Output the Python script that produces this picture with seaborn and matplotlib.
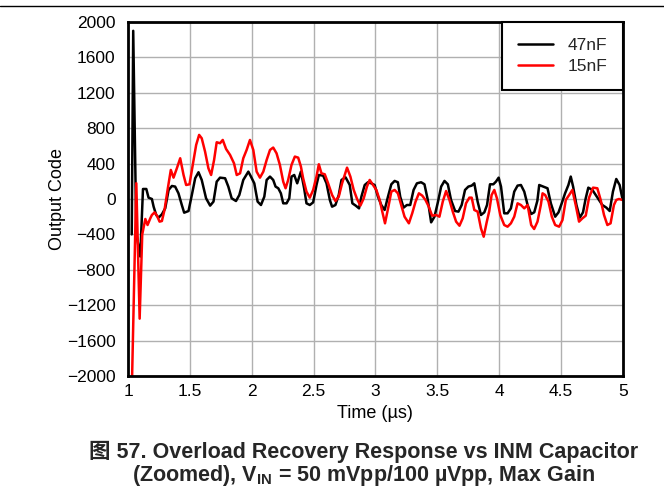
import pandas as pd
import matplotlib
matplotlib.use("Agg")
import matplotlib.pyplot as plt
from matplotlib.lines import Line2D
import seaborn as sns

# Time axis (us) and output code
t_47nF = [1.030, 1.042, 1.067, 1.099, 1.121, 1.148, 1.166, 1.193, 1.207, 1.228,
          1.247, 1.274, 1.301, 1.328, 1.355, 1.381, 1.408, 1.435, 1.454, 1.489,
          1.516, 1.543, 1.570, 1.596, 1.631, 1.664, 1.691, 1.717, 1.744, 1.785,
          1.811, 1.838, 1.873, 1.900, 1.932, 1.973, 1.994, 2.021, 2.048, 2.075,
          2.102, 2.121, 2.148, 2.174, 2.193, 2.215, 2.236, 2.255, 2.282, 2.304,
          2.322, 2.344, 2.368, 2.398, 2.424, 2.443, 2.470, 2.497, 2.524, 2.543,
          2.578, 2.605, 2.632, 2.650, 2.677, 2.704, 2.726, 2.759, 2.793, 2.814,
          2.841, 2.868, 2.887, 2.914, 2.940, 2.967, 2.994, 3.021, 3.048, 3.075,
          3.102, 3.129, 3.156, 3.182, 3.201, 3.228, 3.255, 3.282, 3.309, 3.336,
          3.370, 3.397, 3.424, 3.451, 3.478, 3.505, 3.532, 3.559, 3.586, 3.612,
          3.645, 3.672, 3.698, 3.725, 3.752, 3.779, 3.800, 3.827, 3.854, 3.881,
          3.903, 3.927, 3.954, 3.975, 3.997, 4.016, 4.042, 4.069, 4.096, 4.123,
          4.150, 4.177, 4.204, 4.231, 4.260, 4.285, 4.310, 4.325, 4.357, 4.392,
          4.419, 4.454, 4.481, 4.507, 4.534, 4.561, 4.580, 4.599, 4.626, 4.653,
          4.679, 4.701, 4.722, 4.755, 4.782, 4.808, 4.835, 4.868, 4.895, 4.921,
          4.948, 4.975, 4.997]
code_47nF = [-400, 1900, -390, -650, 113, 113, 15, 0, -87, -181,
             -211, -173, -105, 102, 147, 140, 64, -68, -155, -136,
             45, 234, 302, 215, 8, -75, -30, 196, 241, 234,
             140, 8, -23, 45, 215, 309, 253, 177, -30, -68,
             26, 215, 253, 215, 140, 121, 64, -49, -49, 8,
             253, 271, 177, 309, 121, -49, -68, -38, 158, 271,
             264, 177, -11, -87, -68, 45, 215, 245, 158, -49,
             -75, -106, 26, 158, 189, 177, 158, 26, -68, -124,
             26, 166, 204, 189, 26, -98, -68, -68, 102, 177,
             189, 166, -11, -264, -200, -40, 140, 204, 166, -11,
             -136, -143, -68, 102, 140, 151, 177, -30, -181, -151,
             -68, 166, 166, 196, 241, 140, -162, -162, -106, 83,
             151, 158, 83, -68, -170, -150, -20, 158, 140, 121,
             -49, -200, -151, -49, 64, 158, 253, 140, -68, -211,
             -151, 8, 128, 102, 45, -11, -68, -98, -136, 83,
             226, 158, 8]

t_15nF = [1.030, 1.067, 1.094, 1.115, 1.140, 1.158, 1.180, 1.193, 1.215, 1.234,
          1.255, 1.274, 1.295, 1.322, 1.346, 1.368, 1.395, 1.422, 1.449, 1.470,
          1.497, 1.524, 1.551, 1.575, 1.596, 1.623, 1.650, 1.672, 1.696, 1.717,
          1.744, 1.766, 1.793, 1.825, 1.857, 1.879, 1.906, 1.932, 1.959, 1.986,
          2.013, 2.040, 2.067, 2.094, 2.121, 2.148, 2.174, 2.201, 2.228, 2.255,
          2.274, 2.295, 2.322, 2.349, 2.376, 2.398, 2.416, 2.443, 2.470, 2.497,
          2.524, 2.543, 2.564, 2.591, 2.618, 2.650, 2.677, 2.704, 2.731, 2.771,
          2.798, 2.825, 2.852, 2.879, 2.906, 2.932, 2.954, 2.981, 3.008, 3.035,
          3.056, 3.078, 3.104, 3.129, 3.156, 3.182, 3.209, 3.236, 3.271, 3.298,
          3.325, 3.352, 3.379, 3.405, 3.432, 3.459, 3.491, 3.518, 3.545, 3.572,
          3.599, 3.626, 3.653, 3.680, 3.706, 3.733, 3.760, 3.779, 3.800, 3.827,
          3.854, 3.876, 3.900, 3.921, 3.940, 3.962, 3.983, 4.010, 4.042, 4.069,
          4.096, 4.123, 4.150, 4.177, 4.204, 4.231, 4.260, 4.284, 4.311, 4.338,
          4.352, 4.373, 4.400, 4.427, 4.454, 4.486, 4.513, 4.540, 4.567, 4.593,
          4.620, 4.647, 4.674, 4.701, 4.728, 4.760, 4.795, 4.822, 4.849, 4.876,
          4.902, 4.929, 4.948, 4.970, 4.997]
code_15nF = [-2200, 178, -1352, -400, -226, -294, -219, -181, -151, -189,
             -256, -249, -124, 121, 328, 241, 347, 460, 271, 158,
             166, 385, 611, 724, 686, 535, 347, 271, 441, 641,
             630, 667, 565, 498, 403, 271, 290, 460, 554, 667,
             554, 309, 241, 309, 441, 554, 581, 516, 385, 196,
             121, 215, 385, 479, 467, 366, 234, 83, 15, 102,
             253, 392, 290, 279, 177, 45, -23, 26, 177, 354,
             253, 102, 0, -75, 8, 140, 215, 158, 102, -11,
             -143, -275, -98, 83, 102, 64, -68, -200, -275, -162,
             -30, 64, 38, -11, -87, -189, -181, -200, -30, 90,
             -11, -143, -256, -302, -219, -49, 15, 15, -124, -143,
             -332, -426, -264, -136, 45, 102, 8, -181, -294, -313,
             -275, -200, -49, -68, -106, -68, -294, -339, -256, -68,
             64, 45, -30, -200, -294, -313, -238, -11, 45, 102,
             -68, -256, -219, -189, 15, 128, 121, -11, -181, -294,
             -275, -68, -11, 0, -11]

x_ticks = [1, 1.5, 2, 2.5, 3, 3.5, 4, 4.5, 5]
x_ticklabels = ["1", "1.5", "2", "2.5", "3", "3.5", "4", "4.5", "5"]
y_ticks = [2000, 1600, 1200, 800, 400, 0, -400, -800, -1200, -1600, -2000]

df = pd.concat([
    pd.DataFrame({"Time": t_47nF, "Code": code_47nF, "Cap": "47nF"}),
    pd.DataFrame({"Time": t_15nF, "Code": code_15nF, "Cap": "15nF"}),
], ignore_index=True)

sns.set_theme(style="whitegrid")
plt.rcParams["font.family"] = ["Liberation Sans", "Noto Sans CJK SC", "DejaVu Sans"]
plt.rcParams["mathtext.fontset"] = "custom"
plt.rcParams["mathtext.rm"] = "Liberation Sans"
plt.rcParams["mathtext.bf"] = "Liberation Sans:bold"

fig = plt.figure(figsize=(6.64, 4.88), dpi=100)
ax = fig.add_axes([0.1928, 0.2295, 0.745, 0.7255])

sns.lineplot(data=df, x="Time", y="Code", hue="Cap", palette={"47nF": "black", "15nF": "#ff0000"},
             sort=False, estimator=None, linewidth=1.8, ax=ax)

ax.set_xlim(1, 5)
ax.set_ylim(-2000, 2000)
ax.set_xticks(x_ticks)
ax.set_xticklabels(x_ticklabels)
ax.set_yticks(y_ticks)
ax.set_yticklabels([f"{v}".replace("-", "\u2212") for v in y_ticks])
ax.tick_params(length=0, labelsize=12.5, colors="black")
ax.tick_params(axis="y", pad=9)
ax.tick_params(axis="x", pad=6)
ax.set_facecolor("white")
ax.grid(True, color="#b0b0b0", linewidth=1.0)
for s in ax.spines.values():
    s.set_visible(True)
    s.set_color("black")
    s.set_linewidth(2.0)

ax.set_xlabel("Time (µs)", fontsize=13, color="black", labelpad=4)
ax.set_ylabel("Output Code", fontsize=13, color="black", labelpad=0.5)

leg = ax.legend(loc="upper right", fontsize=12.5, frameon=True, fancybox=False,
                handlelength=2.0, handletextpad=0.85, borderpad=0.9,
                labelspacing=0.35, borderaxespad=0)
leg.get_frame().set_edgecolor("black")
leg.get_frame().set_linewidth(1.5)
leg.get_frame().set_alpha(1)
for line in leg.get_lines():
    line.set_linewidth(1.8)

fig.text(0.548, 0.073, "图 57. Overload Recovery Response vs INM Capacitor",
         ha="center", va="center", fontsize=15.5, fontweight="bold")
fig.text(0.548, 0.026, r"(Zoomed), $\mathbf{V_{IN}}$ = 50 mVpp/100 µVpp, Max Gain",
         ha="center", va="center", fontsize=15.5, fontweight="bold")

fig.add_artist(Line2D([0, 1], [0.988, 0.988], color="black", linewidth=1.0,
                      transform=fig.transFigure))

fig.savefig("out.png", dpi=100, facecolor="white")
